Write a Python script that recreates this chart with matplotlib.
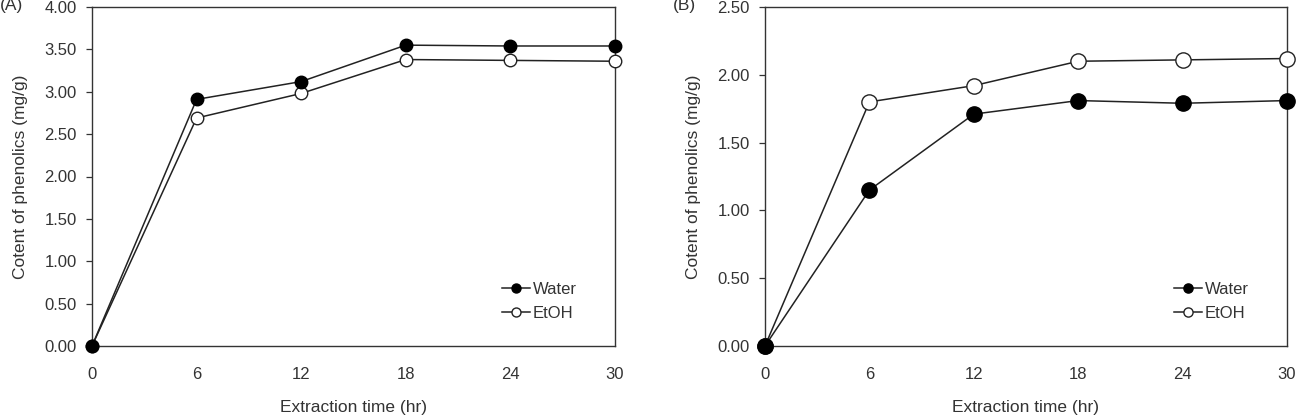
import matplotlib.pyplot as plt

plt.rcParams['font.family'] = ['Liberation Sans', 'DejaVu Sans']

# extraction time (hr)
hours = [0, 6, 12, 18, 24, 30]

# panel A
water_a = [0.00, 2.91, 3.12, 3.55, 3.54, 3.54]
etoh_a = [0.00, 2.69, 2.98, 3.38, 3.37, 3.36]

# panel B
water_b = [0.00, 1.15, 1.71, 1.81, 1.79, 1.81]
etoh_b = [0.00, 1.80, 1.92, 2.10, 2.11, 2.12]

fig = plt.figure(figsize=(13.08, 4.2), dpi=100)
ax1 = fig.add_axes([92 / 1308, 74 / 420, 523 / 1308, 339 / 420])
ax2 = fig.add_axes([765 / 1308, 74 / 420, 522 / 1308, 339 / 420])

panels = [
    (ax1, water_a, etoh_a, 4.0, 0.5, 9, 0.72, '(A)'),
    (ax2, water_b, etoh_b, 2.5, 0.5, 11, 0.6, '(B)'),
]

for ax, water, etoh, ymax, step, ms, mscale, tag in panels:
    # EtOH drawn first so the filled Water marker sits on top at 0
    ax.plot(hours, etoh, color='#222222', lw=1.1, marker='o', ms=ms,
            mfc='white', mec='#222222', mew=1.0, label='EtOH', clip_on=False, zorder=3)
    ax.plot(hours, water, color='#222222', lw=1.1, marker='o', ms=ms,
            mfc='black', mec='black', label='Water', clip_on=False, zorder=4)
    ax.set_xlim(0, 30)
    ax.set_ylim(0, ymax)
    ax.set_xticks(hours)
    yt = [i * step for i in range(int(round(ymax / step)) + 1)]
    ax.set_yticks(yt)
    ax.set_yticklabels([f'{v:.2f}' for v in yt])
    ax.tick_params(axis='y', labelsize=12, length=4, width=0.9, color='#333333',
                   pad=7, labelcolor='#333333')
    ax.tick_params(axis='x', labelsize=12, length=0, pad=15, labelcolor='#333333')
    for s in ax.spines.values():
        s.set_color('#333333')
        s.set_linewidth(1.0)
    ax.set_xlabel('Extraction time (hr)', fontsize=12.5, color='#333333', labelpad=13)
    ax.set_ylabel('Cotent of phenolics (mg/g)', fontsize=12.5, color='#333333', labelpad=12)
    h, l = ax.get_legend_handles_labels()
    ax.legend(h[::-1], l[::-1], loc='lower right', bbox_to_anchor=(0.927, 0.075),
              frameon=False, fontsize=12, handlelength=1.7, handletextpad=0.15,
              labelspacing=0.5, borderpad=0, borderaxespad=0, markerscale=mscale,
              labelcolor='#333333')
    ax.text(-92 / 523, 1.003, tag, transform=ax.transAxes, fontsize=12.5,
            ha='left', va='center', color='#333333')

fig.savefig('out.png', dpi=100)
